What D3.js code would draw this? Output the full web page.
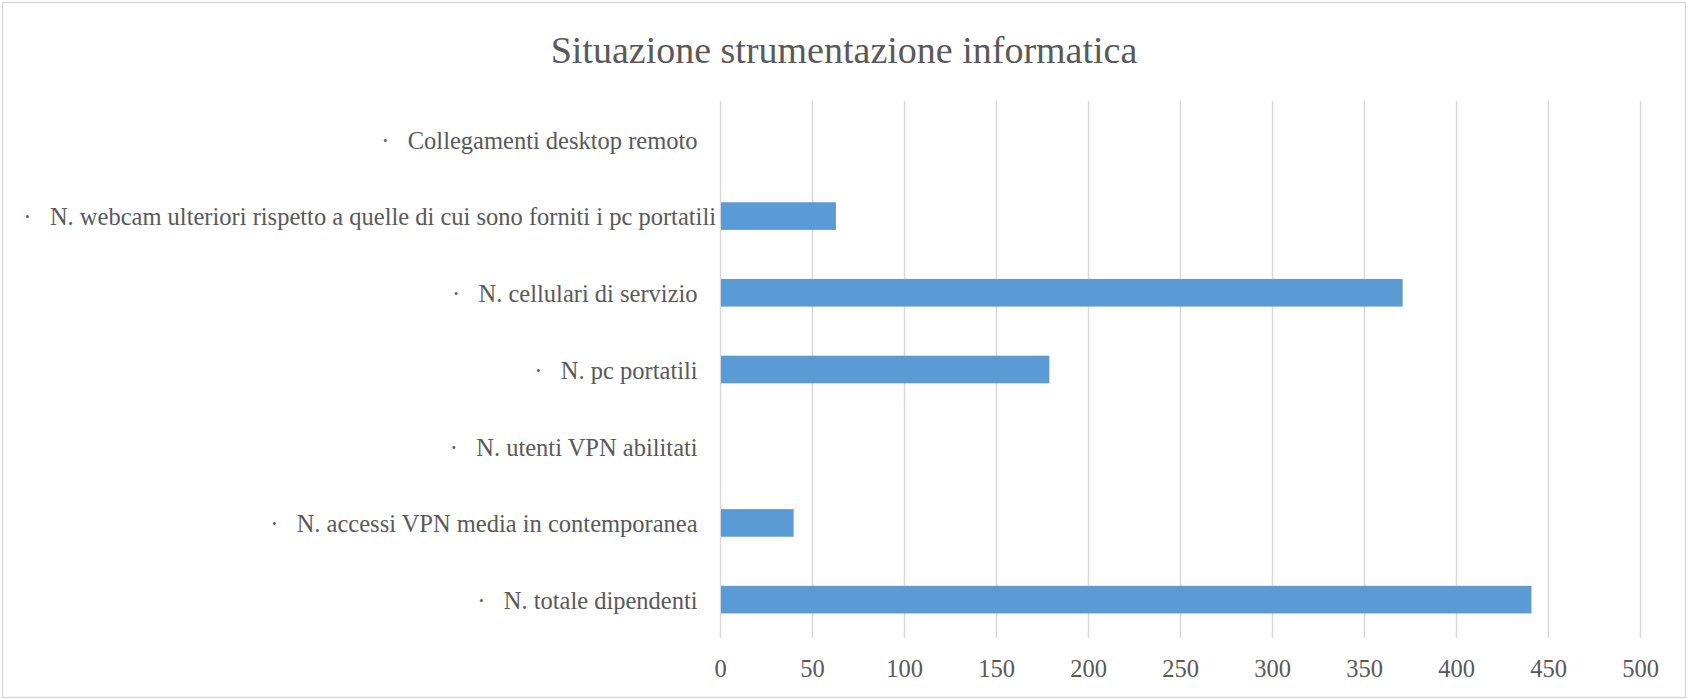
<!DOCTYPE html>
<html>
<head>
<meta charset="utf-8">
<script src="https://cdn.jsdelivr.net/npm/d3@7"></script>
<style>
  html, body { margin: 0; padding: 0; background: #fff; }
  text { white-space: pre; }
</style>
</head>
<body>
<div id="chart"></div>
<script>
// ── Data ────────────────────────────────────────────────────────────────
const chartTitle = "Situazione strumentazione informatica";

const categories = [
  "Collegamenti desktop remoto   ",
  "N. webcam ulteriori rispetto a quelle di cui sono forniti i pc portatili",
  "N. cellulari di servizio   ",
  "N. pc portatili   ",
  "N. utenti VPN abilitati   ",
  "N. accessi VPN media in contemporanea   ",
  "N. totale dipendenti   ",
];

const values = [0, 63, 371, 179, 0, 40, 441];

const xTicks = [0, 50, 100, 150, 200, 250, 300, 350, 400, 450, 500];

const data = categories.map((c, i) => ({ name: c, value: values[i] }));

// ── Dimensions ─────────────────────────────────────────────────────────
const W = 1688;
const H = 700;
const margin = { top: 101, right: 48, bottom: 62, left: 720 };
const width = W - margin.left - margin.right;
const height = H - margin.top - margin.bottom;

const textColor = "#595959";
const gridColor = "#d9d9d9";
const font = "'Liberation Serif', 'Times New Roman', serif";

// ── SVG ────────────────────────────────────────────────────────────────
const svg = d3
  .select("#chart")
  .append("svg")
  .attr("width", W)
  .attr("height", H);

svg
  .append("rect")
  .attr("x", 2.5)
  .attr("y", 2.5)
  .attr("width", W - 5)
  .attr("height", H - 5)
  .attr("fill", "#fff")
  .attr("stroke", gridColor)
  .attr("stroke-width", 1.5);

const g = svg
  .append("g")
  .attr("transform", `translate(${margin.left},${margin.top})`);

// ── Scales ─────────────────────────────────────────────────────────────
const x = d3.scaleLinear().domain([0, 500]).range([0, width]);

const y = d3
  .scaleBand()
  .domain(categories)
  .range([0, height])
  .paddingInner(0.64)
  .paddingOuter(0.32);

// ── Grid + X Axis ──────────────────────────────────────────────────────
const xAxis = g
  .append("g")
  .attr("transform", `translate(0,${height})`)
  .call(
    d3.axisBottom(x)
      .tickValues(xTicks)
      .tickSize(-height)
      .tickPadding(22)
      .tickFormat(d3.format("d")),
  );

xAxis.select(".domain").remove();
xAxis
  .selectAll("line")
  .attr("stroke", gridColor)
  .attr("stroke-width", 1.5);
xAxis
  .selectAll("text")
  .attr("fill", textColor)
  .style("font-family", font)
  .style("font-size", "24.5px");

// ── Bars ───────────────────────────────────────────────────────────────
g.selectAll(".bar")
  .data(data)
  .join("rect")
  .attr("class", "bar")
  .attr("x", x(0) + 1)
  .attr("y", (d) => y(d.name))
  .attr("width", (d) => Math.max(0, x(d.value) - x(0) - 1))
  .attr("height", y.bandwidth())
  .attr("fill", "#5b9bd5");

// ── Category Labels ────────────────────────────────────────────────────
const labels = g
  .selectAll(".cat-label")
  .data(data)
  .join("text")
  .attr("class", "cat-label")
  .attr("x", -4)
  .attr("y", (d) => y(d.name) + y.bandwidth() / 2)
  .attr("dy", "0.38em")
  .attr("text-anchor", "end")
  .attr("fill", textColor)
  .style("font-family", font)
  .style("font-size", "24.5px");

labels.append("tspan").text("·   ");
labels.append("tspan").text((d) => d.name);

// ── Title ──────────────────────────────────────────────────────────────
svg
  .append("text")
  .attr("x", W / 2)
  .attr("y", 63)
  .attr("text-anchor", "middle")
  .attr("fill", textColor)
  .style("font-family", font)
  .style("font-size", "38px")
  .text(chartTitle);
</script>
</body>
</html>
